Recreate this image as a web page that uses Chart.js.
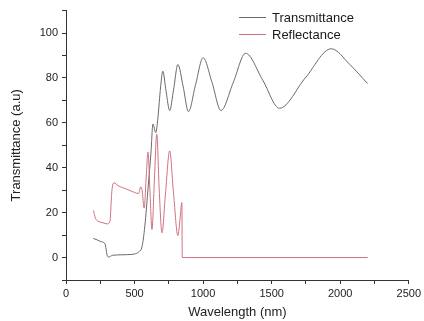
<!DOCTYPE html>
<html>
<head>
<meta charset="utf-8">
<script src="https://cdn.jsdelivr.net/npm/chart.js@4.4.1/dist/chart.umd.min.js"></script>
<style>
  html, body { margin: 0; padding: 0; background: #fff; }
  #wrap { width: 424px; height: 321px; position: relative; }
</style>
</head>
<body>
<div id="wrap"><canvas id="spectrum"></canvas></div>
<script>
// values
const transWavelength = [200, 230, 260, 285, 300, 310, 340, 400, 450, 500, 530, 555, 575, 600, 620, 634, 655, 670, 690, 706, 730, 756, 785, 816, 855, 893, 945, 1000, 1065, 1130, 1220, 1310, 1435, 1557, 1745, 1935, 2070, 2200];
const transValues     = [8.5, 7.8, 7.0, 6.0, 1.0, 0.2, 1.0, 1.2, 1.3, 1.6, 2.5, 5, 14, 32, 47, 59.5, 55.6, 62, 76, 83, 74, 65.5, 75, 86, 76, 65, 77, 89, 78, 65.5, 78, 91, 79, 66.5, 80, 93, 86, 77.5];

const reflWavelength = [200, 215, 240, 270, 300, 320, 335, 350, 380, 420, 460, 500, 530, 545, 555, 570, 585, 598, 612, 627, 645, 662, 680, 700, 725, 756, 785, 816, 833, 845, 848, 900, 2200];
const reflValues     = [21, 17.5, 16, 15.5, 15, 16, 30, 33.3, 32, 31, 30, 29, 28.5, 31.5, 30, 22, 36, 47, 30, 12.5, 35, 55, 30, 11, 28, 47.5, 28, 9.8, 18, 24.5, 0, 0, 0];

const xTicksMajor = [0, 500, 1000, 1500, 2000, 2500];
const yTicksMajor = [0, 20, 40, 60, 80, 100];

const seriesNames = ['Transmittance', 'Reflectance'];
const seriesColors = ['#686868', '#d0707f'];

const toPoints = (xs, ys) => xs.map((x, i) => ({ x: x, y: ys[i] }));

const FONT = "'Liberation Sans', Arial, sans-serif";

// legend drawn inside the plot, top right
const insideLegend = {
    id: 'insideLegend',
    afterDraw(chart) {
        const ctx = chart.ctx;
        const rows = [17, 34];
        ctx.save();
        ctx.font = '13px ' + FONT;
        ctx.textBaseline = 'middle';
        ctx.textAlign = 'left';
        seriesNames.forEach((name, i) => {
            ctx.strokeStyle = seriesColors[i];
            ctx.lineWidth = 1;
            ctx.beginPath();
            ctx.moveTo(239, rows[i] + 0.5);
            ctx.lineTo(266, rows[i] + 0.5);
            ctx.stroke();
            ctx.fillStyle = '#1a1a1a';
            ctx.fillText(name, 272, rows[i] + 1);
        });
        ctx.restore();
    }
};

new Chart(document.getElementById('spectrum'), {
    type: 'line',
    data: {
        datasets: [
            {
                label: seriesNames[0],
                data: toPoints(transWavelength, transValues),
                borderColor: seriesColors[0],
                borderWidth: 1,
                pointRadius: 0,
                cubicInterpolationMode: 'monotone',
                order: 1
            },
            {
                label: seriesNames[1],
                data: toPoints(reflWavelength, reflValues),
                borderColor: seriesColors[1],
                borderWidth: 1,
                pointRadius: 0,
                cubicInterpolationMode: 'monotone',
                order: 0
            }
        ]
    },
    options: {
        responsive: true,
        maintainAspectRatio: false,
        animation: false,
        layout: { padding: { left: 0, right: 11, top: 10, bottom: 0 } },
        plugins: { legend: { display: false }, tooltip: { enabled: false } },
        scales: {
            x: {
                type: 'linear',
                min: 0,
                max: 2500,
                afterFit: s => { s.height = 41; },
                border: { color: '#333', width: 1 },
                grid: { drawOnChartArea: false, color: '#333', tickLength: 4 },
                ticks: {
                    stepSize: 250,
                    autoSkip: false,
                    maxRotation: 0,
                    padding: 3,
                    color: '#222',
                    font: { family: FONT, size: 11 },
                    callback: v => xTicksMajor.includes(v) ? String(v) : ''
                },
                title: {
                    display: true,
                    text: 'Wavelength (nm)',
                    color: '#222',
                    font: { family: FONT, size: 13 },
                    padding: { top: 0, bottom: 1 }
                }
            },
            y: {
                min: -10,
                max: 110,
                afterFit: s => { s.width = 66; },
                border: { color: '#333', width: 1 },
                grid: { drawOnChartArea: false, color: '#333', tickLength: 4 },
                ticks: {
                    stepSize: 10,
                    autoSkip: false,
                    padding: 4,
                    color: '#222',
                    font: { family: FONT, size: 11 },
                    callback: v => yTicksMajor.includes(v) ? String(v) : ''
                },
                title: {
                    display: true,
                    text: 'Transmittance (a.u)',
                    color: '#222',
                    font: { family: FONT, size: 13 },
                    padding: { top: 9, bottom: 0 }
                }
            }
        }
    },
    plugins: [insideLegend]
});
</script>
</body>
</html>
